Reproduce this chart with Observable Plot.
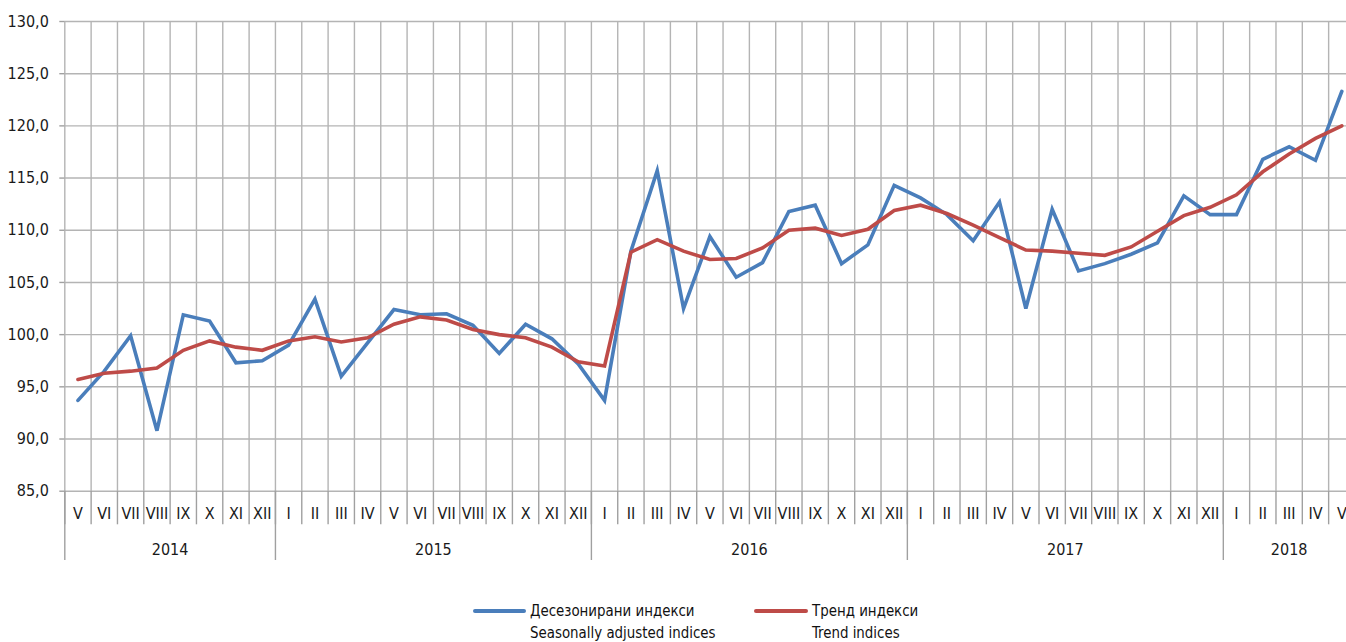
<!DOCTYPE html>
<html><head><meta charset="utf-8">
<script src="https://cdn.jsdelivr.net/npm/d3@7"></script>
<script src="https://cdn.jsdelivr.net/npm/@observablehq/plot@0.6"></script>
<style>
body{margin:0;background:#fff;}
#wrap{position:relative;width:1346px;height:642px;overflow:hidden;font-family:"Liberation Sans Narrow","Arial Narrow","DejaVu Sans Condensed",sans-serif;}
.leg{position:absolute;font-size:16px;line-height:22px;color:#111;white-space:nowrap;transform:scaleX(0.93);transform-origin:0 0}
.sw{position:absolute;height:4px;border-radius:2px}
</style></head><body><div id="wrap"></div>
<script>
// ---- data ----
const monthLabels = [
  "V","VI","VII","VIII","IX","X","XI","XII",
  "I","II","III","IV","V","VI","VII","VIII","IX","X","XI","XII",
  "I","II","III","IV","V","VI","VII","VIII","IX","X","XI","XII",
  "I","II","III","IV","V","VI","VII","VIII","IX","X","XI","XII",
  "I","II","III","IV","V"
];
const yearLabels = ["2014","2015","2016","2017","2018"];
const yearMonthCounts = [8, 12, 12, 12, 5];
const seasonallyAdjusted = [
  93.7, 96.5, 99.9, 90.8, 101.9, 101.3, 97.3, 97.5,
  99.0, 103.4, 96.0, 99.2, 102.4, 101.9, 102.0, 100.9, 98.2, 101.0, 99.6, 97.2,
  93.7, 108.0, 115.7, 102.5, 109.4, 105.5, 106.9, 111.8, 112.4, 106.8, 108.6, 114.3,
  113.1, 111.5, 109.0, 112.7, 102.5, 112.0, 106.1, 106.8, 107.7, 108.8, 113.3, 111.5,
  111.5, 116.8, 118.0, 116.7, 123.3
];
const trend = [
  95.7, 96.3, 96.5, 96.8, 98.5, 99.4, 98.8, 98.5,
  99.4, 99.8, 99.3, 99.7, 101.0, 101.7, 101.4, 100.5, 100.0, 99.7, 98.8, 97.4,
  97.0, 107.9, 109.1, 108.0, 107.2, 107.3, 108.3, 110.0, 110.2, 109.5, 110.1, 111.9,
  112.4, 111.6, 110.5, 109.3, 108.1, 108.0, 107.8, 107.6, 108.4, 109.9, 111.4, 112.2,
  113.4, 115.6, 117.3, 118.8, 120.0
];
const yTicks = [85, 90, 95, 100, 105, 110, 115, 120, 125, 130];
const seriesNames = [
  ["Десезонирани индекси", "Seasonally adjusted indices"],
  ["Тренд индекси", "Trend indices"]
];

// ---- derived tables ----
const n = monthLabels.length;
const idx = d3.range(n);
const rows = idx.map(i => ({i, sa: seasonallyAdjusted[i], tr: trend[i]}));
const boundaries = d3.range(n + 1).map(k => k - 0.5);
let acc = 0;
const yearStarts = [], yearCenters = [];
yearMonthCounts.forEach(c => { yearStarts.push(acc - 0.5); yearCenters.push(acc + (c - 1) / 2); acc += c; });
const yearAt = new Map(yearCenters.map((c, k) => [c, yearLabels[k]]));

const BLUE = "#4a7ebb", RED = "#be4b48", GRID = "#b4b4b4", TICK = "#a0a0a0";
const FONT = '"Liberation Sans Narrow","Arial Narrow","DejaVu Sans Condensed",sans-serif';
const H = 592, yBottom = 490.7, yTop = 21, xLeft = 64.3, colW = 26.33;
const fmt = v => v.toFixed(1).replace(".", ",");

const chart = Plot.plot({
  width: 1346, height: H,
  marginTop: yTop, marginBottom: H - yBottom, marginLeft: xLeft, marginRight: 0,
  style: {fontFamily: FONT, fontSize: "16px", color: "#1a1a1a", background: "white", overflow: "hidden"},
  x: {type: "linear", domain: [-0.5, n - 0.5], range: [xLeft, xLeft + n * colW], label: null},
  y: {domain: [85, 130], range: [yBottom, yTop], label: null},
  marks: [
    Plot.gridY({ticks: yTicks, stroke: GRID, strokeOpacity: 1, strokeWidth: 1.4}),
    Plot.gridX({ticks: boundaries, stroke: GRID, strokeOpacity: 1, strokeWidth: 1.4}),
    Plot.axisY({ticks: yTicks, tickFormat: fmt, tickSize: 5, tickPadding: 11, stroke: TICK, strokeWidth: 1.4, fill: "#1a1a1a", fontSize: 16, label: null}),
    Plot.axisX({ticks: boundaries, tickSize: 33.6, tickFormat: () => "", stroke: TICK, strokeWidth: 1.4, label: null}),
    Plot.axisX({ticks: yearStarts, tickSize: 69.3, tickFormat: () => "", stroke: TICK, strokeWidth: 1.4, label: null}),
    Plot.axisX({ticks: idx, tickSize: 0, tickPadding: 16.5, tickFormat: i => monthLabels[i], fill: "#1a1a1a", fontSize: 16, label: null}),
    Plot.axisX({ticks: yearCenters, tickSize: 0, tickPadding: 52.5, tickFormat: c => yearAt.get(c), fill: "#1a1a1a", fontSize: 16, label: null}),
    Plot.line(rows, {x: "i", y: "sa", stroke: BLUE, strokeWidth: 3.6, strokeLinejoin: "miter", strokeMiterlimit: 4}),
    Plot.line(rows, {x: "i", y: "tr", stroke: RED, strokeWidth: 3.6, strokeLinejoin: "miter", strokeMiterlimit: 4})
  ]
});
const wrap = document.getElementById("wrap");
wrap.appendChild(chart);

// ---- legend below the svg ----
const legendItems = [
  {color: BLUE, names: seriesNames[0], swX: 473, swW: 53, tX: 530},
  {color: RED, names: seriesNames[1], swX: 754, swW: 54, tX: 812}
];
legendItems.forEach(it => {
  const sw = document.createElement("div");
  sw.className = "sw";
  sw.style.left = it.swX + "px"; sw.style.width = it.swW + "px";
  sw.style.top = "609px"; sw.style.background = it.color;
  wrap.appendChild(sw);
  const t = document.createElement("div");
  t.className = "leg";
  t.style.left = it.tX + "px"; t.style.top = "600px";
  t.innerHTML = it.names[0] + "<br>" + it.names[1];
  wrap.appendChild(t);
});
</script>
</body></html>
